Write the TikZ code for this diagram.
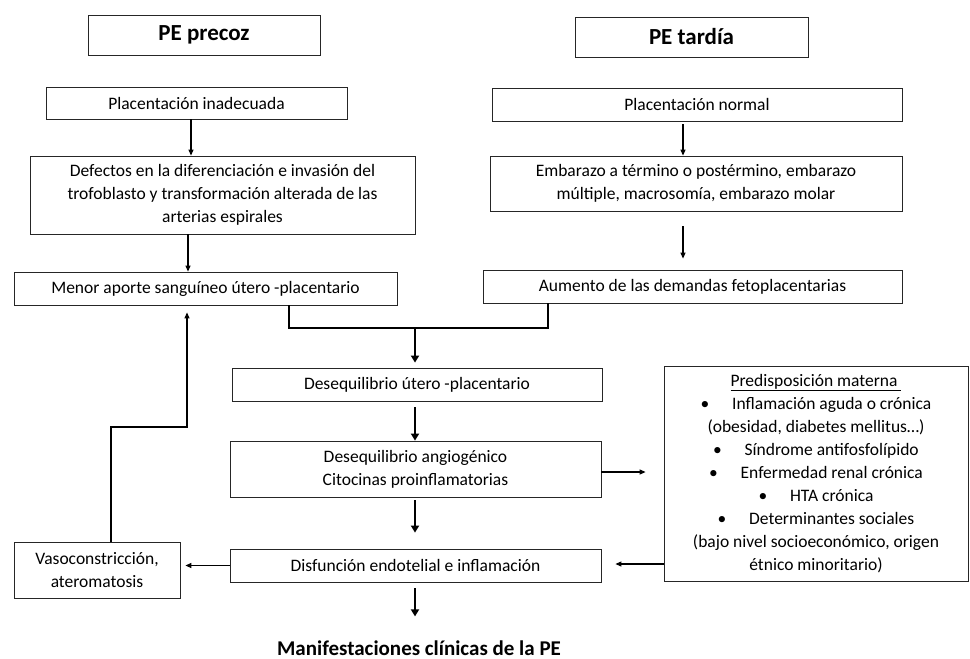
\documentclass[tikz,border=0pt]{standalone}
\usepackage{fontspec}
\setmainfont{Carlito}
\usetikzlibrary{arrows.meta}
\begin{document}
\begin{tikzpicture}[x=1pt,y=-1pt,
  box/.style={draw=black!85,line width=0.8pt,rectangle,inner sep=0pt,align=center,
    font=\fontsize{17.5}{23}\selectfont},
  hbox/.style={box,font=\fontsize{23}{26}\selectfont\bfseries},
  thinarr/.style={draw=black,line width=1.1pt,-{Triangle[length=6pt,width=5pt]}},
  thickarr/.style={draw=black,line width=2pt,-{Triangle[length=7pt,width=8pt]}},
  conn/.style={draw=black,line width=1.3pt}]
\useasboundingbox (0,0) rectangle (970,659);
% headers
\node[hbox,minimum width=232pt,minimum height=40pt] (h1) at (204,35) {PE precoz};
\node[hbox,minimum width=233pt,minimum height=40pt] (h2) at (691.5,37) {PE tardía};
% left column
\node[box,minimum width=301pt,minimum height=32pt] (a1) at (196.5,103) {Placentación inadecuada};
\node[box,minimum width=385pt,minimum height=78pt] (a2) at (222.5,195) {Defectos en la diferenciación e invasión del\\trofoblasto y transformación alterada de las\\arterias espirales};
\node[box,minimum width=383pt,minimum height=33pt] (a3) at (205.5,288.5) {Menor aporte sanguíneo útero -placentario};
% right column
\node[box,minimum width=410pt,minimum height=33pt] (b1) at (697,104.5) {Placentación normal};
\node[box,minimum width=412pt,minimum height=55pt] (b2) at (696,183.5) {Embarazo a término o postérmino, embarazo\\múltiple, macrosomía, embarazo molar};
\node[box,minimum width=419pt,minimum height=33pt] (b3) at (692.5,286.5) {Aumento de las demandas fetoplacentarias};
% center
\node[box,minimum width=370pt,minimum height=33pt] (c1) at (417,384.5) {Desequilibrio útero -placentario};
\node[box,minimum width=371pt,minimum height=56pt] (c2) at (415.5,469) {Desequilibrio angiogénico\\Citocinas proinflamatorias};
\node[box,minimum width=371pt,minimum height=33pt] (c3) at (415.5,565.5) {Disfunción endotelial e inflamación};
\node[inner sep=0pt,font=\fontsize{21}{24}\selectfont\bfseries] (m) at (419,648) {Manifestaciones clínicas de la PE};
\node[box,minimum width=166pt,minimum height=56pt] (v) at (97,570) {Vasoconstricción,\\ateromatosis};
\node[box,minimum width=304pt,minimum height=215pt] (p) at (816,473.5) {\underline{Predisposición materna\ }\\
\textbullet\hspace{1.3em}Inflamación aguda o crónica\\
(obesidad, diabetes mellitus…)\\
\textbullet\hspace{1.3em}Síndrome antifosfolípido\\
\textbullet\hspace{1.3em}Enfermedad renal crónica\\
\textbullet\hspace{1.3em}HTA crónica\\
\textbullet\hspace{1.3em}Determinantes sociales\\
(bajo nivel socioeconómico, origen\\
étnico minoritario)};
% coordinates
\coordinate (j) at (415,328);
\coordinate (fb1) at (187,427);
% left arrows
\draw[thinarr] ([xshift=-5.5pt]a1.south) -- ([xshift=-5.5pt]a1.south |- a2.north);
\draw[thinarr] ([xshift=-34.5pt]a2.south) -- ([xshift=-34.5pt]a2.south |- a3.north);
% right arrows
\draw[thinarr,shorten <=3pt] ([xshift=-14pt]b1.south) -- ([xshift=-14pt]b1.south |- b2.north);
\draw[thinarr,shorten <=15pt,shorten >=11pt] ([xshift=-13pt]b2.south) -- ([xshift=-13pt]b2.south |- b3.north);
% junction
\draw[conn] ([xshift=83.5pt]a3.south) |- (j) -| ([xshift=-144.5pt]b3.south);
\draw[thickarr,shorten >=5pt] (j) -- (j |- c1.north);
% center chain
\draw[thickarr,shorten <=6pt] ([xshift=-2pt]c1.south) -- ([xshift=-2pt]c1.south |- c2.north);
\draw[thickarr,shorten <=3pt,shorten >=16pt] ([xshift=-0.5pt]c2.south) -- ([xshift=-0.5pt]c2.south |- c3.north);
\draw[thickarr,shorten <=6pt] ([xshift=-0.5pt]c3.south) -- ([xshift=-0.5pt,yshift=-34pt]c3.south);
% side arrows
\draw[thinarr,shorten >=18pt] ([yshift=-3pt]c2.east) -- ([yshift=-3pt]c2.east -| p.west);
\draw[thinarr,shorten >=14pt] ([yshift=-90.5pt]p.west) -- ([yshift=-90.5pt]p.west -| c3.east);
\draw[thinarr,shorten >=5pt] (c3.west) -- (c3.west -| v.east);
\draw[thinarr,shorten >=7pt] ([xshift=14pt]v.north) |- (fb1) -- (fb1 |- a3.south);
\end{tikzpicture}
\end{document}
